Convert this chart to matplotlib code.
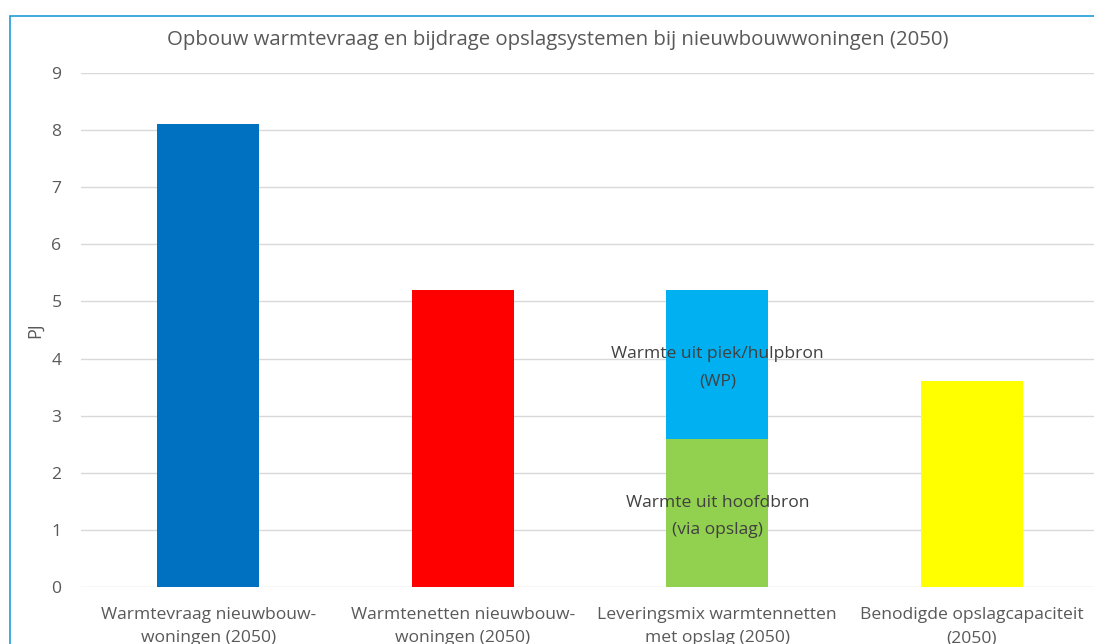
import matplotlib.pyplot as plt
from matplotlib.patches import Rectangle

plt.rcParams['font.family'] = ['Open Sans', 'DejaVu Sans']

categories = ['Warmtevraag nieuwbouw-\nwoningen (2050)',
              'Warmtenetten nieuwbouw-\nwoningen (2050)',
              'Leveringsmix warmtennetten\nmet opslag (2050)',
              'Benodigde opslagcapaciteit\n(2050)']
totals = [8.1, 5.2, None, 3.6]
bar_colors = ['#0070C0', '#FF0000', None, '#FFFF00']
hoofdbron = 2.6   # warmte uit hoofdbron (via opslag)
piek = 2.6        # warmte uit piek/hulpbron (WP)

text_col = '#595959'

fig = plt.figure(figsize=(10.94, 6.44), dpi=100)
ax = fig.add_axes([81 / 1094, 1 - 587 / 644, 4 * 254.5 / 1094, (587 - 73) / 644])

x = list(range(len(categories)))
w = 0.4
for i in x:
    if totals[i] is not None:
        ax.bar(i, totals[i], width=w, color=bar_colors[i], zorder=2)
ax.bar(2, hoofdbron, width=w, color='#92D050', zorder=2)
ax.bar(2, piek, width=w, bottom=hoofdbron, color='#00B0F0', zorder=2)

# segment labels, nudged slightly below the segment middle
ax.text(2, hoofdbron / 2 - 0.06, 'Warmte uit hoofdbron\n(via opslag)', ha='center', va='center',
        fontsize=12.6, color='#404040', linespacing=1.9, zorder=3)
ax.text(2, hoofdbron + piek / 2 - 0.06, 'Warmte uit piek/hulpbron\n(WP)', ha='center', va='center',
        fontsize=12.6, color='#404040', linespacing=1.9, zorder=3)

ax.set_xlim(-0.5, 3.5)
ax.set_ylim(0, 9)
ax.set_yticks(range(0, 10))
ax.set_xticks(x)
ax.set_xticklabels(categories, fontsize=12.6, color=text_col, linespacing=1.6)
ax.tick_params(axis='y', labelsize=12.6, labelcolor=text_col, length=0, pad=14)
ax.tick_params(axis='x', length=0, pad=14.5)
ax.grid(axis='y', color='#D9D9D9', linewidth=1, zorder=0)
for s in ax.spines.values():
    s.set_visible(False)
ax.set_ylabel('PJ', fontsize=13, color=text_col)
ax.yaxis.set_label_coords(-37 / (4 * 254.5), 0.5)

fig.text(558 / 1094, 1 - 40 / 644, 'Opbouw warmtevraag en bijdrage opslagsystemen bij nieuwbouwwoningen (2050)',
         ha='center', va='center', fontsize=14.7, color=text_col)

fig.patches.append(Rectangle((10 / 1094, -0.1), 1.2, 1.1 - 16 / 644, transform=fig.transFigure,
                             fill=False, edgecolor='#1E9BD7', linewidth=1.2))

fig.savefig('out.png', dpi=100)
